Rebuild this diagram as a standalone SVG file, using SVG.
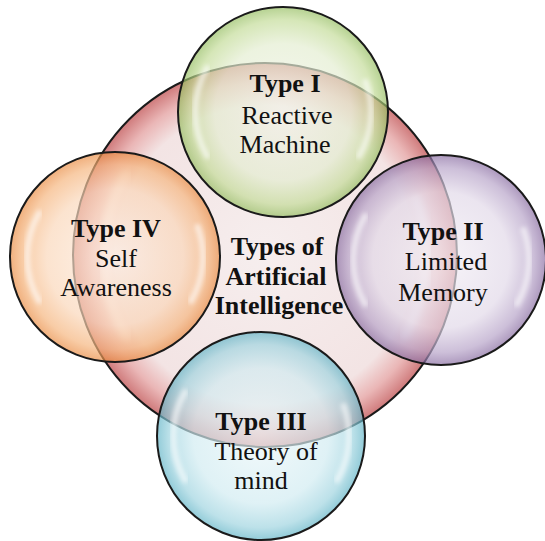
<svg xmlns="http://www.w3.org/2000/svg" width="545" height="541" viewBox="0 0 545 541">
  <defs>
    <radialGradient id="gC" cx="50%" cy="50%" r="50%">
      <stop offset="0" stop-color="#f6eeee"/>
      <stop offset="0.78" stop-color="#f3e4e4"/>
      <stop offset="0.9" stop-color="#eab6b6"/>
      <stop offset="1" stop-color="#cf7a7b"/>
    </radialGradient>
    <radialGradient id="gG" cx="50%" cy="50%" r="50%">
      <stop offset="0" stop-color="#f2f4ea"/>
      <stop offset="0.65" stop-color="#e3edd0"/>
      <stop offset="0.88" stop-color="#c2db96"/>
      <stop offset="1" stop-color="#93bc5e"/>
    </radialGradient>
    <radialGradient id="gO" cx="50%" cy="50%" r="50%">
      <stop offset="0" stop-color="#fdeee2"/>
      <stop offset="0.65" stop-color="#fad6b8"/>
      <stop offset="0.88" stop-color="#f5b47c"/>
      <stop offset="1" stop-color="#e98a40"/>
    </radialGradient>
    <radialGradient id="gP" cx="50%" cy="50%" r="50%">
      <stop offset="0" stop-color="#f3eff5"/>
      <stop offset="0.65" stop-color="#e1d8e8"/>
      <stop offset="0.88" stop-color="#b5a1c7"/>
      <stop offset="1" stop-color="#86699f"/>
    </radialGradient>
    <radialGradient id="gB" cx="50%" cy="50%" r="50%">
      <stop offset="0" stop-color="#ecf7f9"/>
      <stop offset="0.65" stop-color="#d0ebf1"/>
      <stop offset="0.88" stop-color="#9dd3df"/>
      <stop offset="1" stop-color="#5fb3c6"/>
    </radialGradient>
    <filter id="blur" x="-20%" y="-20%" width="140%" height="140%">
      <feGaussianBlur stdDeviation="2"/>
    </filter>
  </defs>
  <style>
    .ring { stroke: #1a1a1a; stroke-width: 2; }
    .sat { fill-opacity: 0.68; }
    .hl { fill: none; stroke: #ffffff; stroke-width: 6; stroke-opacity: 0.6; stroke-linecap: round; filter: url(#blur); }
    .t { font-size: 26px; fill: #111; text-anchor: middle; }
    .b { font-weight: bold; }
  </style>

  <g id="center-node">
    <circle cx="265" cy="255" r="192" fill="url(#gC)" class="ring"/>
    <g transform="translate(265,255) scale(1.83)">
      <path class="hl" d="M -76 -44 A 88 88 0 0 0 -76 44"/>
      <path class="hl" d="M 82.7 -30.1 A 88 88 0 0 1 76.2 44"/>
    </g>
    <g font-family="'Liberation Serif', 'Times New Roman', serif">
      <text class="t b" x="277" y="255">Types of</text>
      <text class="t b" x="276" y="285">Artificial</text>
      <text class="t b" x="279" y="314">Intelligence</text>
    </g>
  </g>

  <g id="type1" font-family="'Liberation Serif', 'Times New Roman', serif">
    <circle cx="283" cy="112" r="105" fill="url(#gG)" class="ring sat"/>
    <g transform="translate(283,112)">
      <path class="hl" d="M -76 -44 A 88 88 0 0 0 -76 44"/>
      <path class="hl" d="M 82.7 -30.1 A 88 88 0 0 1 76.2 44"/>
    </g>
    <text class="t b" x="285" y="92">Type I</text>
    <text class="t" x="287" y="124">Reactive</text>
    <text class="t" x="285" y="153">Machine</text>
  </g>

  <g id="type4" font-family="'Liberation Serif', 'Times New Roman', serif">
    <circle cx="115" cy="257" r="105" fill="url(#gO)" class="ring sat"/>
    <g transform="translate(115,257)">
      <path class="hl" d="M -76 -44 A 88 88 0 0 0 -76 44"/>
      <path class="hl" d="M 82.7 -30.1 A 88 88 0 0 1 76.2 44"/>
    </g>
    <text class="t b" x="116" y="237">Type IV</text>
    <text class="t" x="116" y="267">Self</text>
    <text class="t" x="116" y="296">Awareness</text>
  </g>

  <g id="type2" font-family="'Liberation Serif', 'Times New Roman', serif">
    <circle cx="441" cy="260" r="105" fill="url(#gP)" class="ring sat"/>
    <g transform="translate(441,260)">
      <path class="hl" d="M -76 -44 A 88 88 0 0 0 -76 44"/>
      <path class="hl" d="M 82.7 -30.1 A 88 88 0 0 1 76.2 44"/>
    </g>
    <text class="t b" x="443" y="240">Type II</text>
    <text class="t" x="446" y="270">Limited</text>
    <text class="t" x="443" y="301">Memory</text>
  </g>

  <g id="type3" font-family="'Liberation Serif', 'Times New Roman', serif">
    <circle cx="261" cy="436" r="104" fill="url(#gB)" class="ring sat"/>
    <g transform="translate(261,436)">
      <path class="hl" d="M -76 -44 A 88 88 0 0 0 -76 44"/>
      <path class="hl" d="M 82.7 -30.1 A 88 88 0 0 1 76.2 44"/>
    </g>
    <text class="t b" x="261" y="430">Type III</text>
    <text class="t" x="266" y="460">Theory of</text>
    <text class="t" x="261" y="489">mind</text>
  </g>

  <g id="connectors"></g>
</svg>
